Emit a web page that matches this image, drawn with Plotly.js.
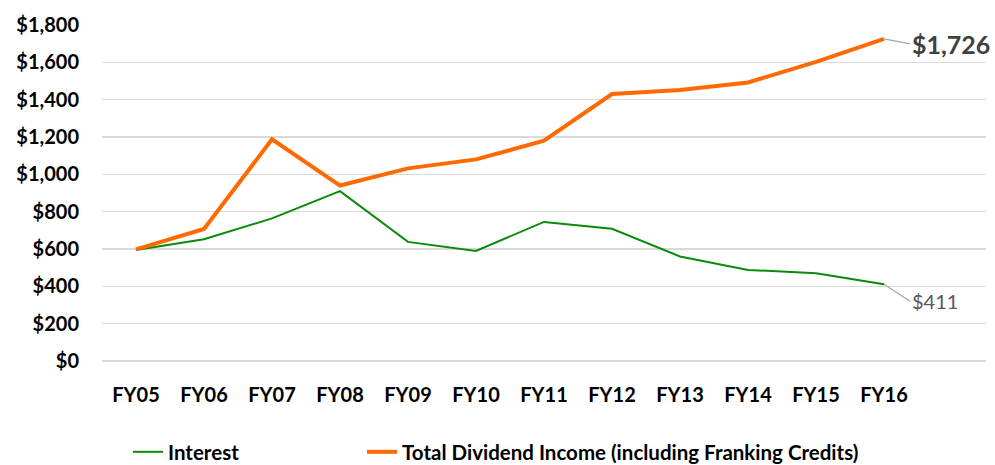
<!DOCTYPE html>
<html>
<head>
<meta charset="utf-8">
<script src="https://cdn.plot.ly/plotly-3.0.1.min.js"></script>
<style>html,body{margin:0;padding:0;background:#fff;}#chart{width:995px;height:465px;}</style>
</head>
<body>
<div id="chart"></div>
<script>
const categories = ['FY05','FY06','FY07','FY08','FY09','FY10','FY11','FY12','FY13','FY14','FY15','FY16'];
const interest = [595, 652, 764, 910, 638, 590, 745, 708, 560, 488, 470, 411];
const dividends = [598, 707, 1188, 940, 1032, 1080, 1180, 1430, 1452, 1492, 1602, 1726];
const yTickVals = [0, 200, 400, 600, 800, 1000, 1200, 1400, 1600, 1800];
const seriesNames = ['Interest', 'Total Dividend Income (including Franking Credits)'];

const font = 'Lato, "Open Sans", "Liberation Sans", sans-serif';
const last = categories.length - 1;
const fmt = v => '$' + v.toLocaleString('en-US');
const yTickText = yTickVals.map(fmt);

const traces = [
  {x: categories, y: interest, type: 'scatter', mode: 'lines', name: seriesNames[0],
   line: {color: '#0A8A0A', width: 2}, hoverinfo: 'skip', legend: 'legend'},
  {x: categories, y: dividends, type: 'scatter', mode: 'lines', name: seriesNames[1],
   line: {color: '#FF6A00', width: 4}, hoverinfo: 'skip', legend: 'legend2'}
];

const legendFont = {size: 20.5, family: font, color: '#000', weight: 'bold'};
const tickFont = {size: 20, family: font, color: '#000', weight: 'bold'};

const layout = {
  width: 995, height: 465,
  margin: {l: 102, r: 9, t: 25, b: 104},
  paper_bgcolor: '#fff', plot_bgcolor: '#fff',
  font: {family: font, color: '#000'},
  showlegend: true,
  legend: {orientation: 'h', xref: 'container', yref: 'container', x: 128 / 995, y: 13 / 465,
           xanchor: 'left', yanchor: 'middle', font: legendFont, bgcolor: 'rgba(0,0,0,0)'},
  legend2: {orientation: 'h', xref: 'container', yref: 'container', x: 362 / 995, y: 13 / 465,
           xanchor: 'left', yanchor: 'middle', font: legendFont, bgcolor: 'rgba(0,0,0,0)'},
  xaxis: {type: 'category', categoryorder: 'array', categoryarray: categories,
          range: [-0.5, last + 1.5], showgrid: false, zeroline: false, showline: false,
          ticks: '', ticklabelstandoff: 20, tickfont: tickFont},
  yaxis: {range: [0, 1800], tickmode: 'array', tickvals: yTickVals, ticktext: yTickText,
          showgrid: true, gridcolor: '#D9D9D9', gridwidth: 1.5, zeroline: true, zerolinecolor: '#D9D9D9',
          zerolinewidth: 1.5, showline: false, ticks: '', ticklabelstandoff: 22, tickfont: tickFont},
  annotations: [
    {x: categories[last], y: dividends[last], xref: 'x', yref: 'y', text: fmt(dividends[last]),
     showarrow: true, arrowhead: 0, arrowwidth: 1.2, arrowcolor: '#A6A6A6', ax: 26, ay: 5,
     xanchor: 'left', yanchor: 'middle', font: {size: 25, family: font, color: '#404040', weight: 'bold'}},
    {x: categories[last], y: interest[last], xref: 'x', yref: 'y', text: fmt(interest[last]),
     showarrow: true, arrowhead: 0, arrowwidth: 1.2, arrowcolor: '#A6A6A6', ax: 26, ay: 17,
     xanchor: 'left', yanchor: 'middle', font: {size: 20, family: font, color: '#595959'}}
  ]
};

Plotly.newPlot('chart', traces, layout, {staticPlot: true, displayModeBar: false});
</script>
</body>
</html>
